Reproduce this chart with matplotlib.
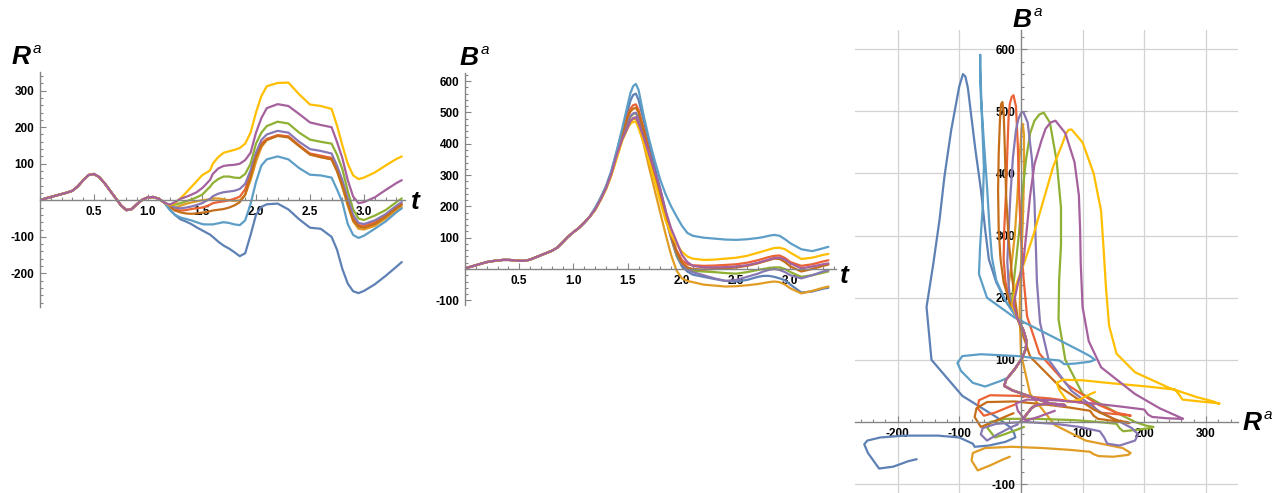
import numpy as np
import matplotlib
matplotlib.use('Agg')
import matplotlib.pyplot as plt
from matplotlib.ticker import MultipleLocator, FixedLocator

# time grid shared by every run up to t = 1.15
t_early = [0.0, 0.05, 0.1, 0.15, 0.2, 0.25, 0.3, 0.35, 0.4, 0.45, 0.5, 0.55,
           0.6, 0.65, 0.7, 0.75, 0.8, 0.85, 0.9, 0.95, 1.0, 1.05, 1.1, 1.15]
R_early = [0, 5, 9, 13, 17, 21, 26, 38, 55, 69, 72, 63,
           46, 26, 6, -14, -27, -24, -10, 2, 8, 9, 4, -6]
B_early = [2, 7, 12, 17, 22, 25, 27, 29, 29, 28, 26, 26,
           30, 37, 44, 51, 58, 68, 85, 103, 118, 131, 148, 167]

# after t = 1.2 the runs split
t_late = [1.2, 1.25, 1.3, 1.35, 1.4, 1.45, 1.5, 1.525, 1.55, 1.575, 1.6, 1.65,
          1.7, 1.75, 1.8, 1.85, 1.9, 1.95, 2.0, 2.05, 2.1,
          2.2, 2.3, 2.4, 2.5, 2.6, 2.7,
          2.75, 2.8, 2.85, 2.9, 2.95, 3.0,
          3.1, 3.2, 3.3, 3.35]

R_darkblue = [-25, -40, -52, -58, -65, -74, -82, -86, -90, -94, -100, -113,
              -124, -132, -142, -153, -145, -95, -40, -18, -11,
              -9, -25, -52, -75, -78, -100,
              -135, -188, -228, -249, -254, -248,
              -230, -207, -182, -169]
B_darkblue = [195, 225, 262, 310, 375, 440, 505, 538, 556, 560, 540, 470,
              395, 325, 255, 185, 100, 42, 8, -8, -18,
              -25, -32, -38, -40, -35, -25,
              -22, -22, -25, -30, -36, -50,
              -75, -72, -63, -60]

R_orange = [-18, -20, -15, -10, -6, -3, 0, 1, 2, 3, 5, 5,
            3, 0, -2, 0, 15, 55, 105, 145, 165,
            178, 174, 150, 126, 118, 112,
            80, 35, -15, -58, -78, -80,
            -70, -50, -28, -18]
B_orange = [190, 220, 255, 300, 358, 415, 455, 472, 479, 480, 462, 395,
            320, 250, 180, 110, 45, -5, -30, -38, -42,
            -50, -53, -56, -55, -52, -48,
            -45, -42, -40, -42, -50, -62,
            -78, -70, -60, -56]

R_green = [-15, -12, -8, -3, 2, 8, 15, 22, 30, 37, 47, 58,
           65, 65, 62, 61, 72, 100, 155, 185, 203,
           215, 210, 185, 166, 160, 155,
           125, 85, 25, -25, -50, -54,
           -42, -27, -5, 5]
B_green = [190, 222, 258, 305, 365, 420, 465, 485, 495, 498, 482, 420,
           345, 285, 228, 165, 100, 45, 15, 0, -6,
           -8, -10, -13, -15, -10, -3,
           0, 3, 5, 5, 0, -10,
           -25, -20, -12, -8]

R_red = [-18, -25, -28, -27, -24, -22, -20, -18, -15, -12, -8, -5,
         -3, 0, 4, 10, 30, 75, 125, 155, 168,
         178, 175, 150, 128, 122, 116,
         85, 45, -5, -50, -68, -70,
         -60, -42, -20, -10]
B_red = [192, 225, 262, 310, 372, 435, 490, 512, 523, 526, 508, 445,
         370, 300, 235, 170, 110, 60, 28, 15, 12,
         10, 11, 13, 15, 20, 28,
         33, 38, 42, 43, 35, 22,
         10, 15, 24, 28]

R_purple = [-17, -20, -22, -20, -17, -13, -8, -4, 0, 4, 11, 18,
            22, 24, 26, 31, 45, 82, 130, 165, 180,
            190, 185, 160, 140, 135, 128,
            95, 55, 5, -40, -62, -65,
            -55, -38, -15, -5]
B_purple = [190, 222, 258, 305, 365, 425, 470, 488, 497, 499, 482, 422,
            355, 290, 225, 160, 100, 50, 15, -2, -10,
            -20, -30, -38, -35, -25, -15,
            -8, -3, 0, -3, -10, -20,
            -30, -20, -8, -4]

R_brown = [-18, -28, -33, -36, -37, -36, -34, -33, -32, -30, -28, -26,
           -24, -20, -14, -5, 15, 65, 118, 150, 165,
           176, 172, 148, 125, 118, 112,
           80, 40, -10, -55, -72, -75,
           -65, -45, -22, -12]
B_brown = [192, 225, 262, 310, 372, 432, 485, 503, 512, 515, 500, 438,
           365, 295, 230, 165, 105, 55, 20, 5, 0,
           -2, 0, 2, 5, 10, 18,
           23, 28, 33, 32, 22, 8,
           -8, 0, 10, 14]

R_lightblue = [-25, -40, -47, -51, -55, -60, -65, -66, -66, -66, -66, -63,
               -60, -62, -66, -68, -55, -10, 50, 95, 112,
               120, 112, 88, 70, 68, 62,
               30, -5, -65, -95, -103, -97,
               -78, -58, -33, -22]
B_lightblue = [195, 228, 265, 315, 380, 450, 525, 562, 584, 591, 572, 485,
               410, 345, 285, 238, 200, 168, 138, 115, 106,
               100, 97, 94, 93, 95, 99,
               102, 106, 109, 106, 95, 82,
               63, 57, 66, 71]

R_yellow = [-14, -8, 5, 20, 36, 52, 68, 73, 77, 82, 100, 118,
            130, 134, 138, 143, 155, 185, 240, 285, 312,
            321, 322, 290, 262, 258, 250,
            205, 150, 100, 68, 58, 62,
            76, 95, 113, 120]
B_yellow = [188, 220, 255, 300, 355, 410, 450, 464, 470, 471, 450, 400,
            340, 280, 215, 155, 110, 80, 55, 40, 33,
            29, 30, 33, 36, 42, 52,
            57, 62, 67, 68, 63, 52,
            32, 36, 45, 48]

R_magenta = [-12, -5, 4, 9, 15, 22, 33, 40, 48, 56, 72, 87,
             94, 96, 97, 100, 110, 130, 185, 225, 252,
             263, 258, 236, 213, 206, 200,
             160, 115, 55, 10, -8, -5,
             8, 28, 47, 55]
B_magenta = [190, 222, 258, 305, 365, 415, 452, 472, 482, 485, 465, 418,
             365, 310, 255, 185, 130, 88, 45, 22, 10,
             5, 5, 6, 8, 12, 20,
             25, 30, 35, 36, 30, 18,
             2, 8, 15, 18]

runs = [
    (R_darkblue, B_darkblue, '#5E81B5'),
    (R_orange, B_orange, '#E19C24'),
    (R_green, B_green, '#8FB032'),
    (R_red, B_red, '#EB6235'),
    (R_purple, B_purple, '#8778B3'),
    (R_brown, B_brown, '#C56E1A'),
    (R_lightblue, B_lightblue, '#5D9EC7'),
    (R_yellow, B_yellow, '#FFBF00'),
    (R_magenta, B_magenta, '#A5609D'),
]

plt.rcParams['font.family'] = 'Liberation Sans'
plt.rcParams['font.weight'] = 'bold'

W, H = 1272, 493
fig = plt.figure(figsize=(W / 100, H / 100), dpi=100)


def px_axes(x0, y0, x1, y1):
    return fig.add_axes([x0 / W, 1 - y1 / H, (x1 - x0) / W, (y1 - y0) / H])


def mma_style(ax, xmajor, ymajor, xminor, yminor, xfmt, yfmt):
    for s in ['top', 'right']:
        ax.spines[s].set_visible(False)
    for s in ['left', 'bottom']:
        ax.spines[s].set_position(('data', 0))
        ax.spines[s].set_color('#858585')
        ax.spines[s].set_linewidth(1.0)
    ax.xaxis.set_major_locator(FixedLocator(xmajor))
    ax.yaxis.set_major_locator(FixedLocator(ymajor))
    ax.xaxis.set_minor_locator(MultipleLocator(xminor))
    ax.yaxis.set_minor_locator(MultipleLocator(yminor))
    ax.set_xticklabels([xfmt.format(v) for v in xmajor])
    ax.set_yticklabels([yfmt.format(v) for v in ymajor])
    ax.tick_params(which='both', direction='in', color='#858585', width=0.8,
                   labelsize=8.5, pad=4)
    ax.tick_params(which='major', length=4)
    ax.tick_params(which='minor', length=2)
    ax.patch.set_visible(False)


def axis_name(x, y, letter, sup):
    fig.text(x / W, 1 - y / H, letter, fontsize=19, fontweight='bold',
             fontstyle='italic', ha='left', va='baseline')
    if sup:
        fig.text((x + 21) / W, 1 - (y - 11) / H, sup, fontsize=11,
                 fontweight='normal', fontstyle='italic', ha='left', va='baseline')


full = []
for R, B, color in runs:
    t = np.array(t_early + t_late)
    full.append((t, np.array(R_early + R), np.array(B_early + B), color))

line_kw = dict(lw=1.6, solid_joinstyle='round', solid_capstyle='round')

# R^a against t
ax1 = px_axes(40, 72, 405, 307)
for t, R, B, color in full:
    ax1.plot(t, R, color=color, **line_kw)
ax1.set_xlim(0, 3.38)
ax1.set_ylim(-292, 351)
mma_style(ax1, [0.5, 1.0, 1.5, 2.0, 2.5, 3.0], [-200, -100, 100, 200, 300],
          0.1, 20, '{:.1f}', '{:d}')

# B^a against t
ax2 = px_axes(465, 73, 836, 305)
for t, R, B, color in full:
    ax2.plot(t, B, color=color, **line_kw)
ax2.set_xlim(0, 3.42)
ax2.set_ylim(-115, 626)
mma_style(ax2, [0.5, 1.0, 1.5, 2.0, 2.5, 3.0], [-100, 100, 200, 300, 400, 500, 600],
          0.1, 20, '{:.1f}', '{:d}')

# B^a against R^a
ax3 = px_axes(855, 30, 1238, 494)
for t, R, B, color in full:
    ax3.plot(R, B, color=color, **line_kw)
ax3.set_xlim(-269, 352)
ax3.set_ylim(-116, 631)
mma_style(ax3, [-200, -100, 100, 200, 300], [-100, 100, 200, 300, 400, 500, 600],
          20, 20, '{:d}', '{:d}')
ax3.grid(True, which='major', color='#d2d2d2', lw=0.9)
ax3.set_axisbelow(True)

axis_name(12, 64, 'R', 'a')
axis_name(411, 209, 't', None)
axis_name(460, 65, 'B', 'a')
axis_name(840, 283, 't', None)
axis_name(1013, 27, 'B', 'a')
axis_name(1243, 430, 'R', 'a')

fig.savefig('out.png', dpi=100)
